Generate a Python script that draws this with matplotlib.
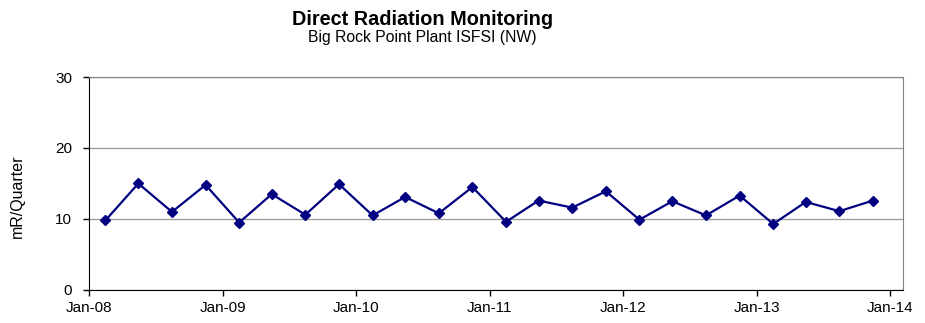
import datetime as dt
import matplotlib
matplotlib.use("Agg")
import matplotlib.pyplot as plt
import matplotlib.dates as mdates

# Quarterly dose readings (mid-quarter sample dates)
years = [2008, 2009, 2010, 2011, 2012, 2013]
months = [2, 5, 8, 11]
dates = [dt.date(y, m, 15) for y in years for m in months]
dose = [9.8, 15.0, 11.0, 14.8, 9.5, 13.5, 10.6, 14.9,
        10.5, 13.1, 10.8, 14.5, 9.6, 12.6, 11.6, 13.9,
        9.9, 12.5, 10.5, 13.3, 9.3, 12.4, 11.1, 12.6]

tick_dates = [dt.date(y, 1, 1) for y in range(2008, 2015)]
tick_labels = ["Jan-%02d" % (y % 100) for y in range(2008, 2015)]

plt.rcParams['font.family'] = ['Liberation Sans', 'DejaVu Sans']

fig = plt.figure(figsize=(9.25, 3.23), dpi=100)
ax = fig.add_axes([0.0962, 0.1022, 0.880, 0.6594])

ax.plot(dates, dose, color="#000080", lw=1.6, marker="D", ms=5,
        markeredgecolor="#000080", markerfacecolor="#000080", zorder=3)

ax.set_xlim(mdates.date2num(dt.date(2008, 1, 1)), mdates.date2num(dt.date(2014, 2, 5)))
ax.set_ylim(0, 30)
ax.set_yticks([0, 10, 20, 30])
ax.set_xticks(tick_dates)
ax.set_xticklabels(tick_labels)

ax.yaxis.grid(True, color="#a0a0a0", lw=1)
ax.set_axisbelow(True)
for side in ("top", "right"):
    ax.spines[side].set_color("#808080")
for side in ("left", "bottom"):
    ax.spines[side].set_color("black")
ax.tick_params(axis="both", direction="out", length=4, width=1, labelsize=11, colors="black")
ax.tick_params(axis="y", pad=8)
ax.tick_params(axis="x", pad=4)

ax.set_ylabel("mR/Quarter", fontsize=11.5)
ax.yaxis.set_label_coords(-0.0786, 0.441)

fig.text(0.457, 0.941, "Direct Radiation Monitoring", ha="center", va="center",
         fontsize=14.3, fontweight="bold")
fig.text(0.457, 0.885, "Big Rock Point Plant ISFSI (NW)", ha="center", va="center",
         fontsize=11.3)

fig.savefig("out.png", dpi=100)
